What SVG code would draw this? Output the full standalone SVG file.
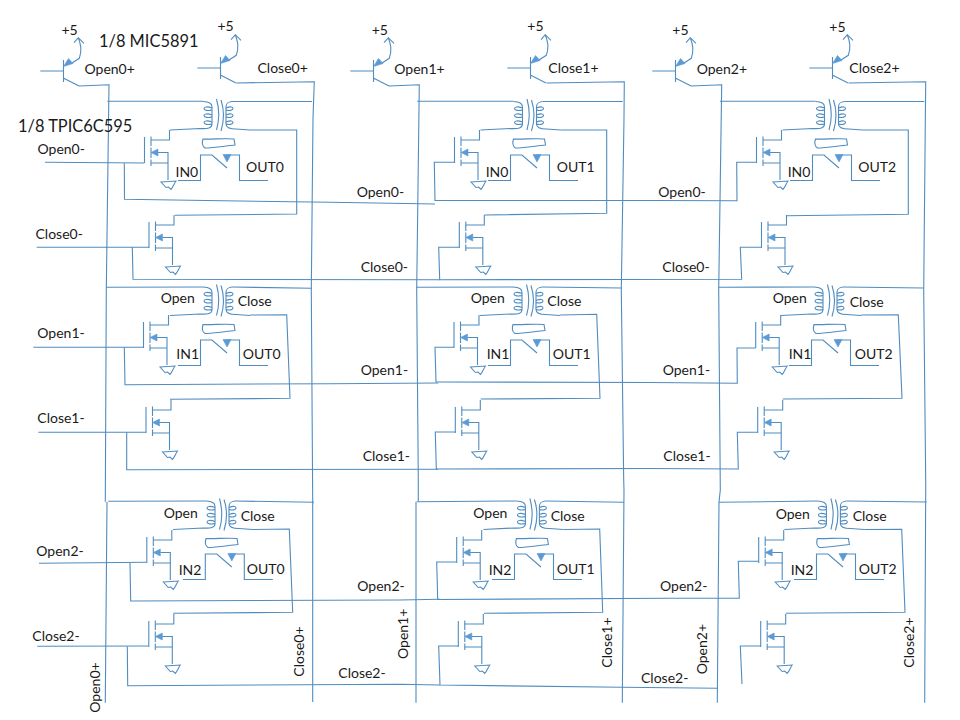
<svg xmlns="http://www.w3.org/2000/svg" width="960" height="720" viewBox="0 0 960 720">
<style>
text{font-family:"Lato","Open Sans","Liberation Sans",sans-serif;font-size:14px;fill:#1a1a1a}
.big{font-size:16.4px}
path,line{fill:none;stroke:#4f8cc0;stroke-width:1.1}
.f{fill:#5b9bd5;stroke:#5b9bd5;stroke-width:.6}
.g{fill:#fff}
</style>
<defs>
<g id="coil">
<path d="M203,101.5C209,102 212,103 212,107V124C212,128 208,129 200,128.5L170,130"/>
<path d="M212,108C207,106 204,107 204,108.500C204,110.500 208,111 212,110M212,115C207,113 204,114 204,115.500C204,117.500 208,118 212,117M212,122C207,120 204,121 204,122.500C204,124.500 208,125 212,124"/>
<path d="M216.500,99Q221,115 216.500,130M221,100Q226,115 221,131"/>
<path d="M232,101.500C228,102 226,103 226,107V124C226,128 230,129 236,129L250,130"/>
<path d="M226,108C231,106 233,107 233,108.500C233,110.500 229,111 226,110M226,115C231,113 233,114 233,115.500C233,117.500 229,118 226,117M226,122C231,120 233,121 233,122.500C233,124.500 229,125 226,124"/>
<path d="M203,139C212,139.500 225,138 234,139L235,145C225,146 213,148 205,148C202,146 202,142 203,139Z"/>
</g>
<g id="sw">
<path d="M178,180.500H200.500V155H212L227,168M226,155H239.500V180.500H268"/>
<path class="f" d="M223,154.500H231L227,162Z"/>
</g>
<g id="fet">
<path d="M144.500,137V163M151,136.500V146M151,147.500V158M151,159.500V166"/>
<path d="M151,140H169.500V130M158,152.500H168V180M151,163H168"/>
<path class="f" d="M151,152.500L158,149V156Z"/>
<path class="g" d="M161,182L176,181C174,184 173,187 171,189.500L168.500,187L166,187.500Z"/>
</g>
<g id="bjt">
<path d="M40.300,71H63.500M63.500,60V82M63.300,78L79,86M72,63L79.300,58.300C82,50 81,45 78.300,37.700M74,42.700L78.300,37.700L84,43.300"/>
<path class="f" d="M63.500,66.500L68.500,58.500L73,63.500Z"/>
</g>
</defs>
<g id="connectors">
<path d="M79,86L109,84.700L106.300,290L105.300,501.700M107,501.700L105.300,702.700"/>
<path d="M236.300,83L314.300,81.700L313,118L311.300,290L312.700,500V702"/>
<path d="M389,86L419.300,84.700L416.700,290L418.300,480V501M416,501.700V702.700"/>
<path d="M546.500,83L624.300,81.700L624,118L621.300,290L623.700,480L624,490L622.300,702.700"/>
<path d="M691,86L721.700,84.700L718.700,290L720.300,490L719,502L717.300,702.700"/>
<path d="M848.500,83L925.700,81.700L923.700,290L925.700,480V490L924.700,702.700"/>
<path d="M107.300,101.300H203M232,101.500H312"/>
<path d="M417.300,101.300H513.500M542.500,101.500H622.700"/>
<path d="M720,101.300H815.500M844.500,101.500H924.300"/>
<path d="M106.300,287.300L203,287M232,287L311.700,288.300"/>
<path d="M416.700,287.300L513,287M542,287L621.700,288"/>
<path d="M718.700,287.300L814,287M843,287L923.300,288"/>
<path d="M108.300,501.300L206,501M235,501L314,502.300"/>
<path d="M416.700,501.700L516.400,501M545.400,501L624,502.300"/>
<path d="M719,502.300L817.400,501M846.400,501L926.700,502"/>
<path d="M250,130H296.700V214L175,215.300"/>
<path d="M560.500,130H606.700V213.300L484.300,215"/>
<path d="M862.500,130H908.300V214.300L786.700,215.700"/>
<path d="M250,315L286.700,314.700L290,398.300L170,399.300"/>
<path d="M560,315L596.700,314.300L600,398.300L480.700,399"/>
<path d="M861,315L898.300,314.700L902,398.300L782.700,399"/>
<path d="M253,529.500L289.300,529L292.700,612.300L173.300,613.300"/>
<path d="M563.400,529.500L599.700,529L602.700,612.300L484,613.300"/>
<path d="M864.400,529.500L901.700,529.300L905,612.300L785.700,613.300"/>
<path d="M45,162.300L144.300,163M124.300,163L124.500,199.300L330,202.300L435,204"/>
<path d="M454.300,162.300H434.300L435,200.500L650,200.500L737,200.700L736.700,162.300H756"/>
<path d="M36.700,247.300H149M132.300,247.300L133,279.300L439.700,279.700"/>
<path d="M459.300,247.300H438.700L439.700,279.700L741.700,279.300L740.300,247.300H761.700"/>
<path d="M33.300,347.300H143.300M124.300,347.300L125,384.700L330,383.700L438.300,383"/>
<path d="M454,347.300H435L436,382L650,382.500L737.300,383.300L737,348H755.700"/>
<path d="M38.300,432.300H146M126.700,432.300V469.700L438.300,469.300"/>
<path d="M455.300,432H435.300L436.300,469L650,468.500L738.300,469L737.300,432.300H757.700"/>
<path d="M39,563.300L146.700,562.300M130,563L130.700,601L400,600L440,599.300"/>
<path d="M456.300,562H436.700L437.700,599.500L670,598.300L739.300,598.300L738.300,561.300H758.700"/>
<path d="M37.300,646.300L148.300,646M127.300,646.300L127.700,685.700L400,684.300L440,685"/>
<path d="M458.300,646H438.700L440,685L622.300,687.300L717.300,688.300"/>
<path d="M760.700,646H740.300L742,684"/>
</g>
<g id="q-open0"><use href="#bjt"/><text x="61.500" y="34.500">+5</text><text x="84.500" y="74">Open0+</text></g>
<g id="q-close0"><use href="#bjt" transform="translate(157,-3)"/><text x="217.500" y="31">+5</text><text x="257.500" y="73">Close0+</text></g>
<g id="q-open1"><use href="#bjt" transform="translate(310,0)"/><text x="371.700" y="34.500">+5</text><text x="394.300" y="74">Open1+</text></g>
<g id="q-close1"><use href="#bjt" transform="translate(467,-3)"/><text x="527.300" y="31">+5</text><text x="548.300" y="73">Close1+</text></g>
<g id="q-open2"><use href="#bjt" transform="translate(612,0)"/><text x="672.300" y="34.500">+5</text><text x="696.700" y="74">Open2+</text></g>
<g id="q-close2"><use href="#bjt" transform="translate(769,-3)"/><text x="829.300" y="32">+5</text><text x="849.300" y="73">Close2+</text></g>
<g id="cell-r0c0"><use href="#coil"/><use href="#sw"/><use href="#fet"/><use href="#fet" transform="translate(4.500,85)"/><text x="175.500" y="177">IN0</text><text x="246" y="172">OUT0</text></g>
<g id="cell-r0c1"><use href="#coil" transform="translate(310.500,0)"/><use href="#sw" transform="translate(310,0)"/><use href="#fet" transform="translate(310,0)"/><use href="#fet" transform="translate(314.800,85)"/><text x="485.700" y="177">IN0</text><text x="556.700" y="172">OUT1</text></g>
<g id="cell-r0c2"><use href="#coil" transform="translate(612.500,0)"/><use href="#sw" transform="translate(612,0)"/><use href="#fet" transform="translate(612,0)"/><use href="#fet" transform="translate(617,85)"/><text x="787.700" y="177">IN0</text><text x="858.300" y="172">OUT2</text></g>
<g id="cell-r1c0"><use href="#coil" transform="translate(0,185.500)"/><use href="#sw" transform="translate(0,185)"/><use href="#fet" transform="translate(-1,185)"/><use href="#fet" transform="translate(1.500,270)"/><text x="160.700" y="303.300">Open</text><text x="237.700" y="305.700">Close</text><text x="176.300" y="359">IN1</text><text x="242.700" y="359.300">OUT0</text></g>
<g id="cell-r1c1"><use href="#coil" transform="translate(310,185.500)"/><use href="#sw" transform="translate(310,185)"/><use href="#fet" transform="translate(309.500,185)"/><use href="#fet" transform="translate(310.800,270)"/><text x="470.700" y="303.300">Open</text><text x="547.300" y="305.700">Close</text><text x="486.700" y="359">IN1</text><text x="552.700" y="359.300">OUT1</text></g>
<g id="cell-r1c2"><use href="#coil" transform="translate(611,185.500)"/><use href="#sw" transform="translate(611,185)"/><use href="#fet" transform="translate(611.200,185)"/><use href="#fet" transform="translate(613.200,270)"/><text x="772.700" y="303.300">Open</text><text x="849.700" y="306.700">Close</text><text x="788.700" y="359">IN1</text><text x="854.700" y="359.300">OUT2</text></g>
<g id="cell-r2c0"><use href="#coil" transform="translate(3,399.500)"/><use href="#sw" transform="translate(4.800,399)"/><use href="#fet" transform="translate(2.300,400)"/><use href="#fet" transform="translate(4.300,484)"/><text x="163.700" y="517.700">Open</text><text x="240.700" y="520.700">Close</text><text x="178.700" y="575">IN2</text><text x="246.700" y="574">OUT0</text></g>
<g id="cell-r2c1"><use href="#coil" transform="translate(313.400,399.500)"/><use href="#sw" transform="translate(314,399)"/><use href="#fet" transform="translate(312.200,400)"/><use href="#fet" transform="translate(313.800,484)"/><text x="473.300" y="517.700">Open</text><text x="550.700" y="520.700">Close</text><text x="488.700" y="575">IN2</text><text x="556.700" y="574">OUT1</text></g>
<g id="cell-r2c2"><use href="#coil" transform="translate(614.400,399.500)"/><use href="#sw" transform="translate(616,399)"/><use href="#fet" transform="translate(614.200,400)"/><use href="#fet" transform="translate(616.200,484)"/><text x="775.700" y="518.700">Open</text><text x="852.700" y="520.700">Close</text><text x="790.700" y="575">IN2</text><text x="858.700" y="574">OUT2</text></g>
<g id="labels">
<text class="big" x="99" y="47">1/8 MIC5891</text>
<text class="big" x="18" y="132">1/8 TPIC6C595</text>
<text x="37.500" y="154">Open0-</text><text x="35.500" y="239">Close0-</text>
<text x="37.300" y="338.300">Open1-</text><text x="37.300" y="423.300">Close1-</text>
<text x="36.300" y="555.700">Open2-</text><text x="32.300" y="641">Close2-</text>
<text x="356.700" y="197">Open0-</text><text x="360.700" y="272">Close0-</text>
<text x="658.300" y="197">Open0-</text><text x="662.300" y="272">Close0-</text>
<text x="360.700" y="375">Open1-</text><text x="362.700" y="461">Close1-</text>
<text x="662.700" y="375">Open1-</text><text x="663.300" y="461">Close1-</text>
<text x="357.300" y="591">Open2-</text><text x="338.300" y="677.700">Close2-</text>
<text x="660" y="591">Open2-</text><text x="641" y="683.300">Close2-</text>
<text transform="translate(100,712.700) rotate(-90)">Open0+</text>
<text transform="translate(304.300,676.700) rotate(-90)">Close0+</text>
<text transform="translate(408.300,659) rotate(-90)">Open1+</text>
<text transform="translate(611.700,667.700) rotate(-90)">Close1+</text>
<text transform="translate(707.300,674.300) rotate(-90)">Open2+</text>
<text transform="translate(914.300,667.700) rotate(-90)">Close2+</text>
</g>
</svg>
